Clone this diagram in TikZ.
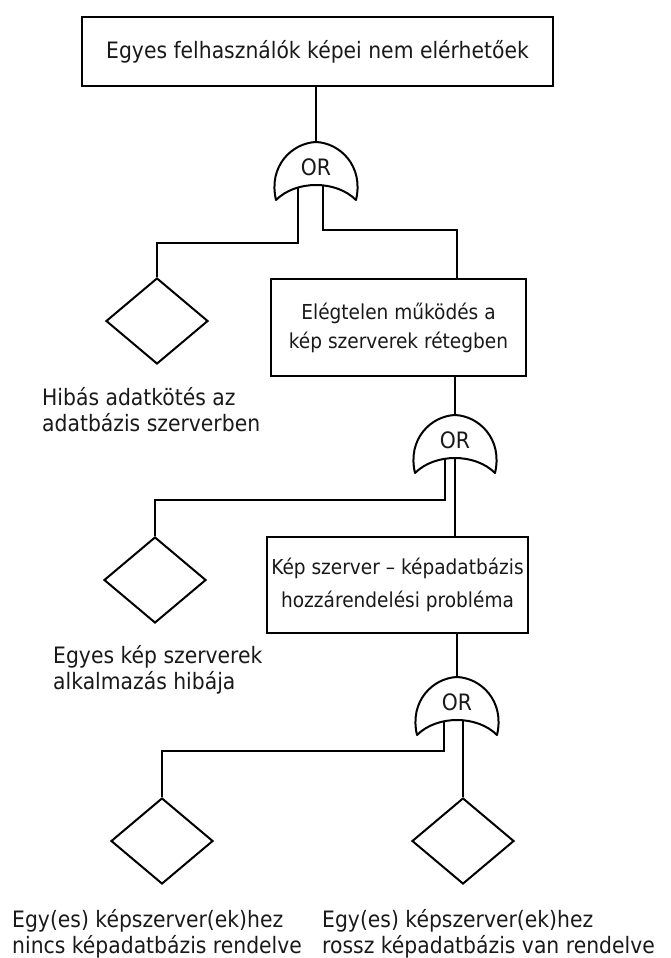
\documentclass[tikz,border=0pt]{standalone}
\usepackage{fontspec}
\newfontfamily\lblfont{DejaVu Sans}[FakeStretch=0.9]
\usetikzlibrary{shapes.geometric,backgrounds}
\begin{document}
\begin{tikzpicture}[x=1pt,y=-1pt,
  lbl/.style={font=\lblfont\fontsize{22.6}{26}\selectfont, text=black!90},
  boxtxt/.style={font=\lblfont\fontsize{20.6}{29}\selectfont, text=black!90},
  event/.style={draw, line width=2pt, boxtxt, align=center, inner sep=0pt},
  basic/.style={draw, line width=2pt, diamond, minimum width=102pt, minimum height=86pt, inner sep=0pt, aspect=1.186},
  wire/.style={line width=2pt},
  note/.style={lbl, align=left, anchor=north west, inner sep=0pt},
  orgate/.pic={
    \path[draw, fill=white, line width=2pt, line join=round]
      (0,0) .. controls (-24,1) and (-48,24) .. (-40,58)
      .. controls (-20,38) and (20,38) .. (40,58)
      .. controls (48,24) and (24,1) .. (0,0) -- cycle;
    \node[lbl, inner sep=0pt] at (0,25) {OR};
    \coordinate (-top) at (0,0);
    \coordinate (-base) at (0,43);
  }
]
\useasboundingbox (0,0) rectangle (671,958);

% events
\node[event, minimum width=471pt, minimum height=69pt, lbl] (e1) at (317.5,51.5) {Egyes felhasználók képei nem elérhetőek};
\node[event, minimum width=255pt, minimum height=97pt] (e2) at (398.5,327.5) {\rule{0pt}{10pt}Elégtelen működés a\\kép szerverek rétegben};
\node[event, minimum width=261pt, minimum height=96pt, font=\lblfont\fontsize{20.6}{33}\selectfont] (e3) at (397.5,585) {Kép szerver – képadatbázis\\hozzárendelési probléma};

% basic events
\node[basic] (d1) at (157,321) {};
\node[basic] (d2) at (155,580) {};
\node[basic] (d3) at (162,841) {};
\node[basic] (d4) at (463,841) {};

% gates
\pic (g1) at (316,142) {orgate};
\pic (g2) at (455,415) {orgate};
\pic (g3) at (457,677) {orgate};

% labels
\node[note] (t1) at (42,387) {\strut Hibás adatkötés az\\adatbázis szerverben};
\node[note] (t2) at (53,645) {\strut Egyes kép szerverek\\alkalmazás hibája};
\node[note] (t3) at (12,909) {\strut Egy(es) képszerver(ek)hez\\nincs képadatbázis rendelve};
\node[note] (t4) at (322,909) {\strut Egy(es) képszerver(ek)hez\\rossz képadatbázis van rendelve};

% bend levels
\coordinate (k1) at (0,243);
\coordinate (k2) at (457,230);
\coordinate (k3) at (0,500);
\coordinate (k4) at (0,751);

\begin{scope}[on background layer]
\draw[wire] (e1.south -| g1-top) -- (g1-top);
\draw[wire] ([xshift=-18pt]g1-base) |- (k1 -| d1.north) -- (d1.north);
\draw[wire] ([xshift=7pt]g1-base) |- (k2) -- (k2 |- e2.north);
\draw[wire] (e2.south -| g2-top) -- (g2-top);
\draw[wire] ([xshift=-10pt]g2-base) |- (k3 -| d2.north) -- (d2.north);
\draw[wire] (g2-base) -- (g2-base |- e3.north);
\draw[wire] (e3.south -| g3-top) -- (g3-top);
\draw[wire] ([xshift=-13pt]g3-base) |- (k4 -| d3.north) -- (d3.north);
\draw[wire] (d4.north |- g3-base) -- (d4.north);
\end{scope}
\end{tikzpicture}
\end{document}
